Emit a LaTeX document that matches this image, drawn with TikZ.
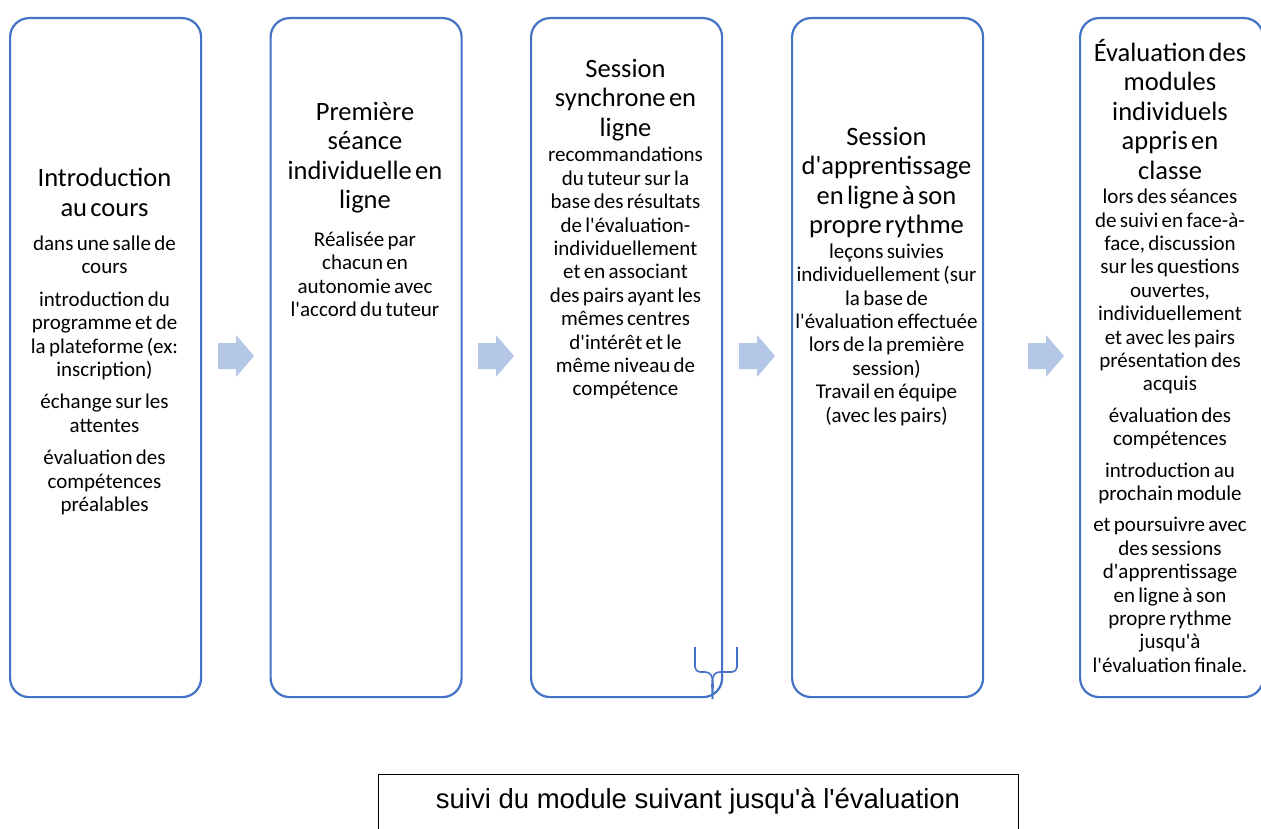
\documentclass[tikz,border=0pt]{standalone}
\usepackage{fontspec}
\setmainfont{Carlito}[Ligatures=TeXOff, WordSpace=1.3]
\newfontfamily\arialfont{Liberation Sans}[Ligatures=TeXOff]
\definecolor{boxblue}{HTML}{4472C4}
\definecolor{arrowfill}{HTML}{B4C7E7}
\newcommand\ttl{\fontsize{26.5}{29.5}\selectfont}
\newcommand\bdy{\fontsize{21}{23.4}\selectfont}
\begin{document}
\begin{tikzpicture}[x=1pt,y=-1pt,
  stage/.style={draw=boxblue, line width=2.2pt, rounded corners=19pt, minimum width=191pt, minimum height=679pt, inner sep=0pt, anchor=north west},
  stagetext/.style={align=center, text width=215pt, inner sep=0pt, anchor=north},
  blockarrow/.style={fill=arrowfill},
  bracestyle/.style={draw=boxblue, line width=1.6pt},
  footbox/.style={draw=black, line width=1.3pt, minimum width=640pt, minimum height=80pt, inner sep=0pt, anchor=north west}]
\useasboundingbox (0,0) rectangle (1261,829);
\fill[white] (0,0) rectangle (1261,829);

\node[stage] (b1) at (9,17) {};
\node[stage] (b2) at (269.5,17) {};
\node[stage] (b3) at (530,17) {};
\node[stage] (b4) at (791,17) {};
\node[stage, minimum width=183pt] (b5) at (1079,17) {};

% block arrows
\foreach \ax/\nm in {218/a1,478/a2,739/a3,1028/a4}{
  \fill[blockarrow] (\ax,343) -- (\ax+18,343) -- (\ax+18,335) -- (\ax+36,356) -- (\ax+18,377) -- (\ax+18,369) -- (\ax,369) -- cycle;
  \coordinate (\nm) at (\ax+18,356);
}

% texts
\node[stagetext] (t1) at (104.5,168) {%
{\ttl Introduction\\au cours\par}\vspace{11pt}
{\bdy dans une salle de\\cours\par}\vspace{9pt}
{\bdy introduction du\\programme et de\\la plateforme (ex:\\inscription)\par}\vspace{9pt}
{\bdy échange sur les\\attentes\par}\vspace{9pt}
{\bdy évaluation des\\compétences\\préalables\par}};

\node[stagetext] (t2) at (365,102) {%
{\ttl Première\\séance\\individuelle en\\ligne\par}\vspace{14pt}
{\bdy Réalisée par\\chacun en\\autonomie avec\\l'accord du tuteur\par}};

\node[stagetext] (t3) at (625.5,59) {%
{\ttl Session\\synchrone en\\ligne\par}\vspace{2pt}
{\bdy recommandations\\du tuteur sur la\\base des résultats\\de l'évaluation-\\individuellement\\et en associant\\des pairs ayant les\\mêmes centres\\d'intérêt et le\\même niveau de\\compétence\par}};

\node[stagetext] (t4) at (886.5,127) {%
{\ttl Session\\d'apprentissage\\en ligne à son\\propre rythme\par}\vspace{1pt}
{\bdy leçons suivies\\individuellement (sur\\la base de\\l'évaluation effectuée\\lors de la première\\session)\\Travail en équipe\\(avec les pairs)\par}};

\node[stagetext] (t5) at (1170,39) {%
{\ttl Évaluation des\\modules\\individuels\\appris en\\classe\par}\vspace{1pt}
{\bdy lors des séances\\de suivi en face-à-\\face, discussion\\sur les questions\\ouvertes,\\individuellement\\et avec les pairs\\présentation des\\acquis\par}\vspace{8pt}
{\bdy évaluation des\\compétences\par}\vspace{8pt}
{\bdy introduction au\\prochain module\par}\vspace{8pt}
{\bdy et poursuivre avec\\des sessions\\d'apprentissage\\en ligne à son\\propre rythme\\jusqu'à\\l'évaluation finale.\par}};

% brace at bottom of box 3
\coordinate (brtip) at (712.5,699);
\draw[bracestyle] (695,647) -- (695,667) to[out=-90,in=180] (700,672) -- (705,672) to[out=0,in=90] (brtip);
\draw[bracestyle] (737,647) -- (737,667) to[out=-90,in=0] (732,672) -- (720,672) to[out=180,in=90] (brtip);

% bottom box
\node[footbox] (foot) at (378,774) {};
\node[font=\arialfont\fontsize{27.5}{31}\selectfont, inner sep=0pt] (foottext) at (698,801) {suivi du module suivant jusqu'à l'évaluation};
\end{tikzpicture}
\end{document}
